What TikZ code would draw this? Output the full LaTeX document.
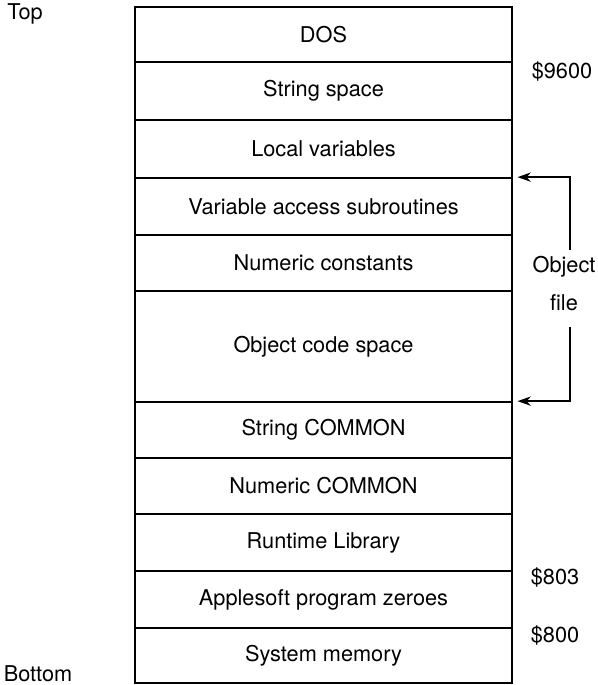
\documentclass[tikz,border=0pt]{standalone}
\usepackage{fontspec}
\setmainfont{TeX Gyre Heros}
\usetikzlibrary{arrows.meta}

\tikzset{
  cell/.style={draw, line width=1.3pt, minimum width=282.75pt, inner sep=0pt},
  lbl/.style={inner sep=0pt},
  arr/.style={line width=1.3pt, -{Stealth[length=10pt,width=7pt]}}
}

\begin{document}
\begin{tikzpicture}[x=0.75pt,y=-0.75pt,font=\fontsize{16.3}{19}\selectfont]
\useasboundingbox (0,0) rectangle (597,685);

% memory map, top to bottom
\foreach \ya/\yb/\t [count=\i] in {7/62/DOS, 62/120/String space, 120/178/Local variables,
  178/235/Variable access subroutines, 235/291/Numeric constants, 291/402/Object code space,
  402/458/String COMMON, 458/514/Numeric COMMON, 514/571/Runtime Library,
  571/628/Applesoft program zeroes, 628/683/System memory} {
\node[cell, minimum height={(\yb-\ya)*0.75pt}] (row\i) at (323.5,{(\ya+\yb)/2}) {\t};
}

\node[lbl] (top) at (25,14) {Top};
\node[lbl] (bottom) at (38,674) {Bottom};

\node[lbl] (a9600) at (562,72) {\$9600};
\node[lbl] (a803) at (555,577) {\$803};
\node[lbl] (a800) at (555,635) {\$800};

\node[lbl] (obj) at (564,267) {Object};
\node[lbl] (file) at (564,303) {file};

\coordinate (objtop) at (570,250);
\coordinate (objbot) at (570,327);
\draw[arr] (objtop) |- ([xshift=3.5pt]row4.north east);
\draw[arr] (objbot) |- ([xshift=3.5pt]row7.north east);
\end{tikzpicture}
\end{document}
